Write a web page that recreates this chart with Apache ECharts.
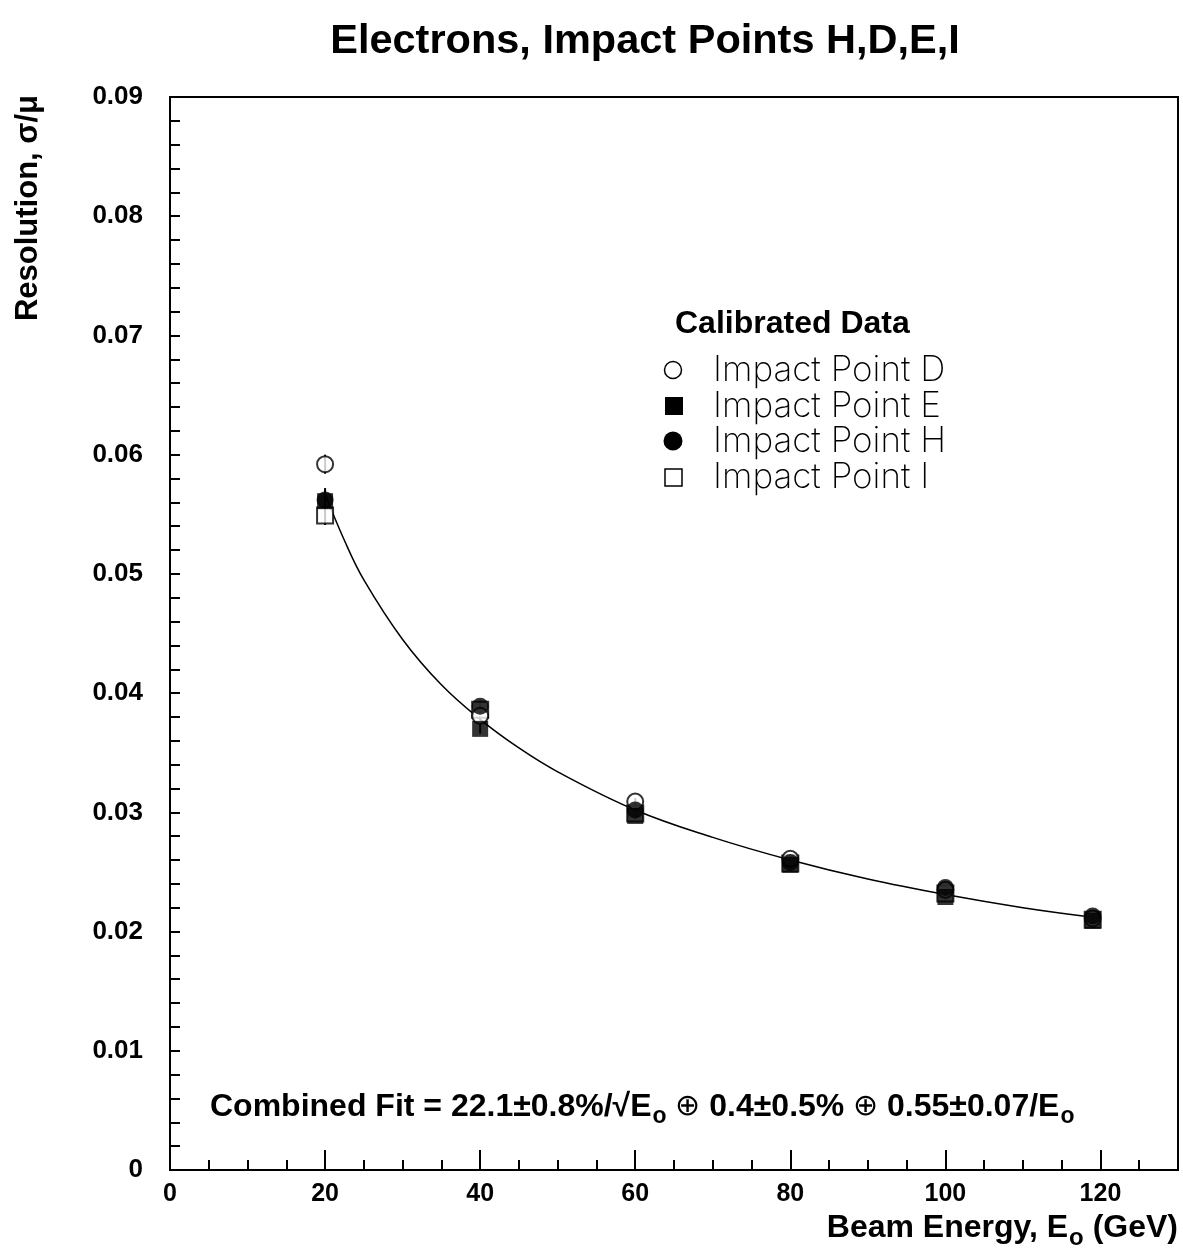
<!DOCTYPE html>
<html>
<head>
<meta charset="utf-8">
<script src="https://cdn.jsdelivr.net/npm/echarts@6/dist/echarts.min.js"></script>
<style>html,body{margin:0;padding:0;background:#fff}#c{width:1183px;height:1256px}</style>
</head>
<body>
<div id="c"></div>
<script>
// Beam energies (GeV)
const energies = [20, 40, 60, 80, 100, 119];
// Resolution values
const pointD = [0.0592, 0.0381, 0.0309, 0.0261, 0.0235, 0.0211];
const pointE = [0.0561, 0.0370, 0.0297, 0.0256, 0.0229, 0.0209];
const pointH = [0.0562, 0.0389, 0.0302, 0.0258, 0.0237, 0.0213];
const pointI = [0.0549, 0.0386, 0.0299, 0.0257, 0.0232, 0.0210];
const errD = [0.0008, 0.0004, 0.0003, 0.0003, 0.0003, 0.0003];
const errE = [0.0011, 0.0004, 0.0003, 0.0003, 0.0003, 0.0003];
const errH = [0.0008, 0.0004, 0.0003, 0.0003, 0.0003, 0.0003];
const errI = [0.0008, 0.0004, 0.0003, 0.0003, 0.0003, 0.0003];
// Combined fit curve
const fitX = [20, 22.5, 25, 30, 35, 40, 45, 50, 60, 70, 80, 90, 100, 110, 119];
const fitY = [0.0567, 0.0528, 0.0495, 0.0445, 0.0407, 0.0378, 0.0354, 0.0334, 0.0302, 0.0279, 0.0260, 0.0244, 0.0231, 0.0220, 0.0212];
const xTicks = [0, 20, 40, 60, 80, 100, 120];
const yTicks = [0, 0.01, 0.02, 0.03, 0.04, 0.05, 0.06, 0.07, 0.08, 0.09];

const chart = echarts.init(document.getElementById('c'), null, {renderer: 'canvas'});

function pairs(xs, ys) { return xs.map((x, i) => [x, ys[i]]); }
function errSeries(vals, errs) {
  return {
    type: 'custom', silent: true, z: 1,
    data: energies.map((x, i) => [x, vals[i] - errs[i], vals[i] + errs[i]]),
    renderItem: function (params, api) {
      const lo = api.coord([api.value(0), api.value(1)]);
      const hi = api.coord([api.value(0), api.value(2)]);
      return {type: 'line', shape: {x1: lo[0], y1: lo[1], x2: hi[0], y2: hi[1]},
              style: {stroke: '#000', lineWidth: 2}};
    }
  };
}
const FONT = '"Liberation Sans", Arial, sans-serif';
const THIN = 'Inter, "DejaVu Sans", sans-serif';

const option = {
  animation: false,
  backgroundColor: '#fff',
  grid: {left: 170, top: 97, right: 5, bottom: 86, show: true, borderColor: '#000', borderWidth: 2, backgroundColor: 'transparent'},
  xAxis: {
    type: 'value', min: 0, max: 130, interval: 20,
    axisLine: {show: true, lineStyle: {color: '#000', width: 2}},
    axisTick: {show: true, inside: true, length: 20, lineStyle: {color: '#000', width: 2}},
    minorTick: {show: true, splitNumber: 4, length: 10, lineStyle: {color: '#000', width: 2}},
    splitLine: {show: false},
    axisLabel: {color: '#000', fontFamily: FONT, fontWeight: 'bold', fontSize: 25, margin: 12,
      formatter: v => xTicks.indexOf(v) >= 0 ? String(v) : ''}
  },
  yAxis: {
    type: 'value', min: 0, max: 0.09, interval: 0.01,
    axisLine: {show: true, lineStyle: {color: '#000', width: 2}},
    axisTick: {show: true, inside: true, length: 10, lineStyle: {color: '#000', width: 2}},
    minorTick: {show: true, splitNumber: 5, length: 10, lineStyle: {color: '#000', width: 2}},
    splitLine: {show: false},
    axisLabel: {color: '#000', fontFamily: FONT, fontWeight: 'bold', fontSize: 26, margin: 27,
      formatter: v => { const t = yTicks.find(k => Math.abs(k - v) < 1e-9); return t === undefined ? '' : (t === 0 ? '0' : t.toFixed(2)); }}
  },
  series: [
    {type: 'line', data: pairs(fitX, fitY), smooth: 0.4, showSymbol: false, symbol: 'none', silent: true, z: 2,
     lineStyle: {color: '#000', width: 1.5}},
    errSeries(pointD, errD), errSeries(pointE, errE), errSeries(pointH, errH), errSeries(pointI, errI),
    {name: 'Impact Point I', type: 'scatter', data: pairs(energies, pointI), symbol: 'rect', symbolSize: 16, z: 3,
     itemStyle: {color: '#fff', borderColor: '#000', borderWidth: 2}},
    {name: 'Impact Point D', type: 'scatter', data: pairs(energies, pointD), symbol: 'circle', symbolSize: 16, z: 4,
     itemStyle: {color: '#fff', borderColor: '#000', borderWidth: 2}},
    {name: 'Impact Point H', type: 'scatter', data: pairs(energies, pointH), symbol: 'circle', symbolSize: 17, z: 5,
     itemStyle: {color: '#000'}},
    {name: 'Impact Point E', type: 'scatter', data: pairs(energies, pointE), symbol: 'rect', symbolSize: 16, z: 6,
     itemStyle: {color: '#000'}}
  ],
  graphic: [
    {type: 'text', x: 645, y: 42, style: {text: 'Electrons, Impact Points H,D,E,I', fill: '#000', font: 'bold 41.5px ' + FONT, textAlign: 'center', textVerticalAlign: 'middle'}},
    {type: 'text', x: 28, y: 208, rotation: Math.PI / 2, style: {text: 'Resolution, σ/μ', fill: '#000', font: 'bold 31px ' + FONT, textAlign: 'center', textVerticalAlign: 'middle'}},
    {type: 'text', x: 1178, y: 1228, style: {
      text: '{b|Beam Energy, E}{s|o}{b| (GeV)}', fill: '#000', textAlign: 'right', textVerticalAlign: 'middle',
      rich: {b: {font: 'bold 32px ' + FONT, fill: '#000'}, s: {font: 'bold 24px ' + FONT, fill: '#000', padding: [20, 0, 0, 1]}}}},
    {type: 'text', x: 675, y: 324, style: {text: 'Calibrated Data', fill: '#000', font: 'bold 32px ' + FONT, textVerticalAlign: 'middle'}},
    // legend markers
    {type: 'circle', shape: {cx: 673, cy: 370, r: 8.5}, style: {fill: '#fff', stroke: '#000', lineWidth: 1.5}},
    {type: 'rect', shape: {x: 665, y: 397, width: 18, height: 18}, style: {fill: '#000'}},
    {type: 'circle', shape: {cx: 673, cy: 441, r: 9.5}, style: {fill: '#000'}},
    {type: 'rect', shape: {x: 665, y: 469, width: 17, height: 17}, style: {fill: '#fff', stroke: '#000', lineWidth: 1.5}},
    {type: 'text', x: 713, y: 370, style: {text: 'Impact Point D', fill: '#000', font: '200 35px ' + THIN, textVerticalAlign: 'middle'}},
    {type: 'text', x: 713, y: 406, style: {text: 'Impact Point E', fill: '#000', font: '200 35px ' + THIN, textVerticalAlign: 'middle'}},
    {type: 'text', x: 713, y: 441, style: {text: 'Impact Point H', fill: '#000', font: '200 35px ' + THIN, textVerticalAlign: 'middle'}},
    {type: 'text', x: 713, y: 477, style: {text: 'Impact Point I', fill: '#000', font: '200 35px ' + THIN, textVerticalAlign: 'middle'}},
    {type: 'text', x: 210, y: 1107, style: {
      text: '{b|Combined Fit = 22.1±0.8%/√E}{s|o}{b| }{c|⊕}{b| 0.4±0.5% }{c|⊕}{b| 0.55±0.07/E}{s|o}', fill: '#000', textVerticalAlign: 'middle',
      rich: {b: {font: 'bold 32px ' + FONT, fill: '#000'}, c: {font: '30px ' + FONT, fill: '#000'},
             s: {font: 'bold 23px ' + FONT, fill: '#000', padding: [20, 0, 0, 1]}}}}
  ]
};
chart.setOption(option);
</script>
</body>
</html>
